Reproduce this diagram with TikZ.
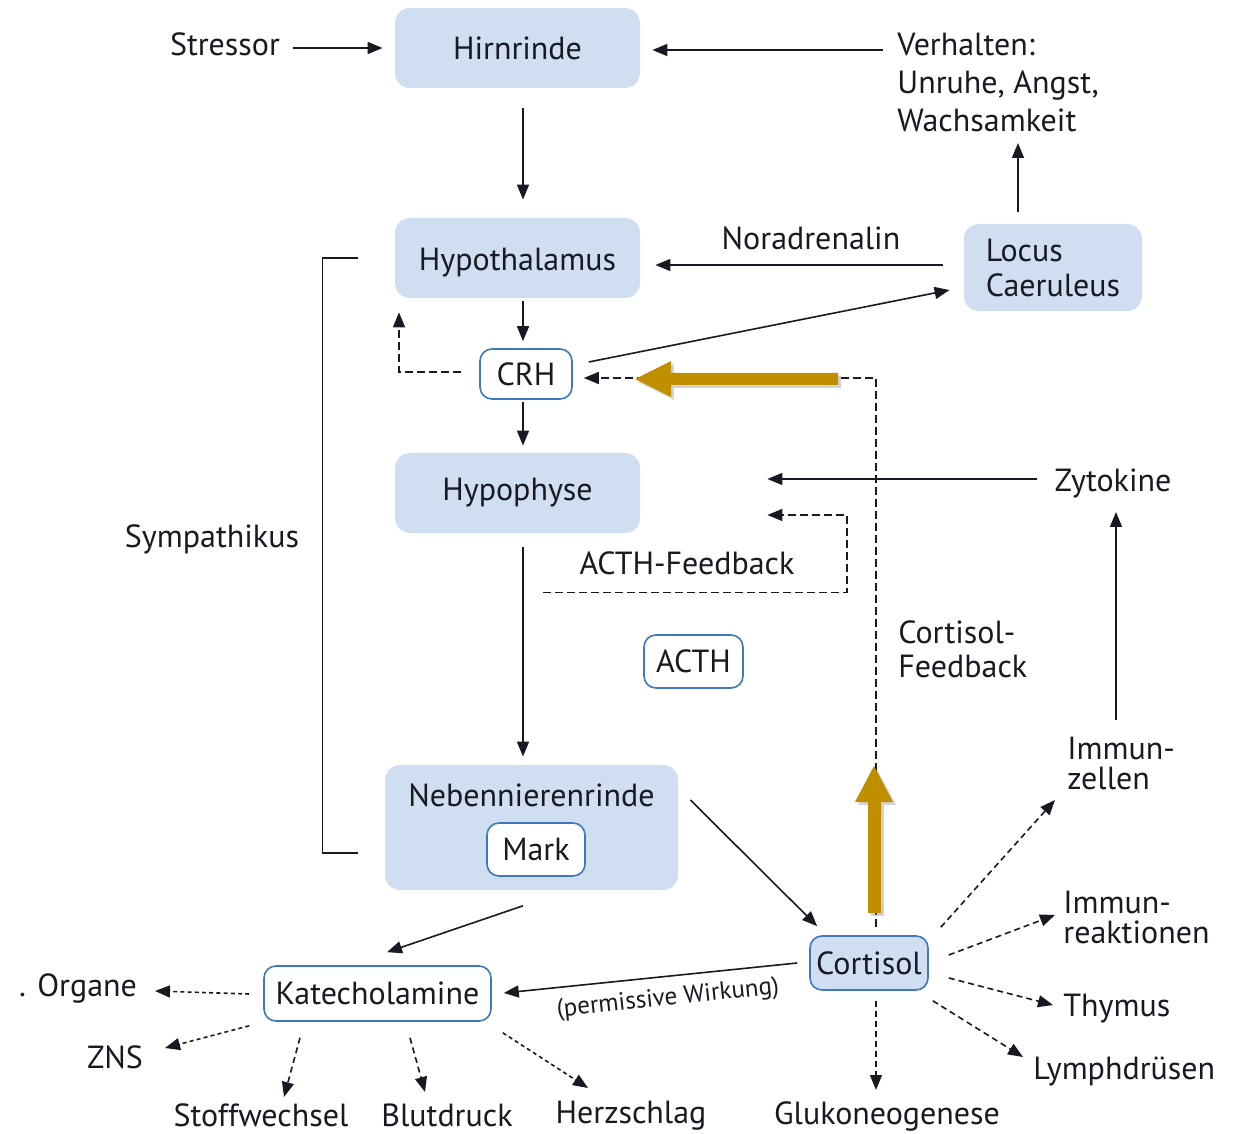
\documentclass[tikz,border=0pt]{standalone}
\usepackage{fontspec}
\setmainfont{PT Sans}
\usetikzlibrary{arrows.meta,shadows}
\definecolor{boxblue}{RGB}{207,223,241}
\definecolor{bordblue}{RGB}{62,120,190}
\definecolor{txt}{RGB}{25,25,35}
\definecolor{gold}{RGB}{191,143,0}
\tikzset{
  box/.style={fill=boxblue, rounded corners=7.5pt, inner sep=0pt, text=txt},
  wbox/.style={draw=bordblue, line width=0.8pt, fill=white, rounded corners=6pt, inner sep=0pt, text=txt},
  cbox/.style={draw=bordblue, line width=0.8pt, fill=boxblue, rounded corners=6pt, inner sep=0pt, text=txt},
  lbl/.style={inner sep=0pt, text=txt},
  arr/.style={draw=txt, line width=0.8pt, -{Triangle[length=7.5pt,width=6pt]}},
  plain/.style={draw=txt, line width=0.8pt},
  fb/.style={dash pattern=on 4pt off 2pt},
  fan/.style={dash pattern=on 3pt off 2pt},
  dot/.style={dash pattern=on 2pt off 1.6pt},
  goldarrow/.style={fill=gold, drop shadow={opacity=0.35, shadow xshift=1.5pt, shadow yshift=-1.5pt}}
}
\begin{document}
\begin{tikzpicture}[x=0.5pt,y=-0.5pt,font=\fontsize{16}{19}\selectfont]
\useasboundingbox (0,0) rectangle (1255,1134);
% boxes
\node[box, minimum width=122.5pt, minimum height=40pt] (hirn) at (517.5,48) {Hirnrinde};
\node[box, minimum width=122.5pt, minimum height=40pt, text depth=0pt] (hypo) at (517.5,258) {\raisebox{-1.5pt}{Hypothalamus}};
\node[box, minimum width=89pt, minimum height=43.5pt, align=left, font=\fontsize{16}{17.5}\selectfont] (locus) at (1053,267.5) {Locus\\Caeruleus};
\node[box, minimum width=122.5pt, minimum height=40pt] (hypoph) at (517.5,493) {\raisebox{-1pt}{Hypophyse}};
\node[box, minimum width=146.5pt, minimum height=62.5pt] (nnr) at (531.5,827.5) {};
\node[lbl] (nnrlabel) at (531.5,795) {Nebennierenrinde};
\node[wbox, minimum width=49pt, minimum height=26.5pt] (mark) at (536,849.5) {Mark};
\node[wbox, minimum width=46pt, minimum height=25pt] (crh) at (526,374) {CRH};
\node[wbox, minimum width=49.5pt, minimum height=26.5pt] (acth) at (693.5,661.5) {ACTH};
\node[cbox, minimum width=59pt, minimum height=27pt] (cortisol) at (869,963) {Cortisol};
\node[wbox, minimum width=113.5pt, minimum height=27.5pt] (katech) at (377.5,993.5) {Katecholamine};
% labels
\node[lbl] (stressor) at (225,44) {Stressor};
\node[lbl, anchor=west, align=left] (verh) at (897,82) {Verhalten:\\Unruhe, Angst,\\Wachsamkeit};
\node[lbl] (norad) at (811,238) {Noradrenalin};
\node[lbl] (symp) at (212,539) {Sympathikus};
\node[lbl] (zyto) at (1113,483) {Zytokine};
\node[lbl] (acthfb) at (687,563) {ACTH-Feedback};
\node[lbl, anchor=west, align=left, font=\fontsize{16}{17}\selectfont] (cortfb) at (898,649) {Cortisol-\\Feedback};
\node[lbl, anchor=west, align=left, font=\fontsize{16}{15}\selectfont] (immz) at (1067,763) {Immun-\\zellen};
\node[lbl, anchor=west, align=left, font=\fontsize{16}{15}\selectfont] (immr) at (1063,917) {Immun-\\reaktionen};
\node[lbl, anchor=west] (thymus) at (1063,1009) {Thymus};
\node[lbl, anchor=west] (lymph) at (1033,1072) {Lymphdrüsen};
\node[lbl] (gluko) at (887,1116) {Glukoneogenese};
\node[lbl] (herz) at (631,1116) {Herzschlag};
\node[lbl] (blut) at (447,1115) {Blutdruck};
\node[lbl] (stoff) at (261,1115) {Stoffwechsel};
\node[lbl] (zns) at (115,1057) {ZNS};
\node[lbl] (organe) at (78,988) {. Organe};
\node[lbl, rotate=6, font=\fontsize{12.5}{14}\selectfont] (perm) at (668,999) {(permissive Wirkung)};
% solid connectors
\draw[arr] ([shift={(68,4)}]stressor.center) -- ([shift={(-12,0)}]hirn.west);
\draw[arr] ([shift={(-14,-32)}]verh.west) -- ([shift={(12,2)}]hirn.east);
\draw[arr] ([shift={(5.5,20)}]hirn.south) -- ([shift={(5.5,-18)}]hypo.north);
\draw[arr] ([shift={(-35,-12)}]locus.north) -- ([shift={(121,61)}]verh.west);
\draw[arr] ([shift={(-21,-2.5)}]locus.west) -- ([shift={(15,7)}]hypo.east);
\draw[arr] ([shift={(16,-12)}]crh.east) -- ([shift={(-14,22.5)}]locus.west);
\draw[arr] ([shift={(5.5,3)}]hypo.south) -- ([shift={(-3,-7)}]crh.north);
\draw[arr] ([shift={(-3,2)}]crh.south) -- ([shift={(5.5,-7)}]hypoph.north);
\draw[arr] ([shift={(-76,-4)}]zyto.center) -- ([shift={(127,-14)}]hypoph.east);
\draw[arr] ([shift={(5.5,14)}]hypoph.south) -- ([shift={(-8.5,-8)}]nnr.north);
\draw[arr] ([shift={(49,-43)}]immz.west) -- ([shift={(3,29)}]zyto.center);
\draw[arr] ([shift={(12,-27.5)}]nnr.east) -- ([shift={(8,-9)}]cortisol.north west);
\draw[arr] ([shift={(-13,29)}]mark.south) -- ([shift={(9.5,-13)}]katech.north);
\draw[arr] ([shift={(-12,0)}]cortisol.west) -- ([shift={(12,-0.5)}]katech.east);
\draw[plain] ([shift={(-37,0)}]hypo.west) -- ++(-35,0) |- ([shift={(-27,25.5)}]nnr.west);
% dashed feedback connectors
\draw[arr, fb] ([shift={(-18,-2)}]crh.west) -| ([shift={(-118.5,14)}]hypo.south);
\draw[arr, fb] ([shift={(7,-8)}]cortisol.north) |- ([shift={(11,4)}]crh.east);
\draw[arr, fb] ([shift={(25.5,59)}]hypoph.south) -- ++(304,0) |- ([shift={(127,22)}]hypoph.east);
% fan from cortisol
\draw[arr, fan] ([shift={(12,-8)}]cortisol.north east) -- ([shift={(-12,37)}]immz.west);
\draw[arr, fan] ([shift={(20,-8)}]cortisol.east) -- ([shift={(-8,-2)}]immr.west);
\draw[arr, fan] ([shift={(20,15)}]cortisol.east) -- ([shift={(-10,-4)}]thymus.west);
\draw[arr, fan] ([shift={(4,10)}]cortisol.south east) -- ([shift={(-10,-15)}]lymph.west);
\draw[arr, fan] ([shift={(7,10)}]cortisol.south) -- ([shift={(-11,-26)}]gluko.center);
% fan from katecholamine
\draw[arr, dot] ([shift={(-14,0.5)}]katech.west) -- ([shift={(77,3)}]organe.center);
\draw[arr, dot] ([shift={(-14,4)}]katech.south west) -- ([shift={(50,-9)}]zns.center);
\draw[arr, fan] ([shift={(-77.5,16)}]katech.south) -- ([shift={(23,-18)}]stoff.center);
\draw[arr, fan] ([shift={(32.5,16)}]katech.south) -- ([shift={(-22,-23)}]blut.center);
\draw[arr, dot] ([shift={(11,11)}]katech.south east) -- ([shift={(-43,-28)}]herz.center);
% gold arrows
\fill[goldarrow] (838,373) -- (671,373) -- (671,361) -- (635,379) -- (671,397) -- (671,385) -- (838,385) -- cycle;
\fill[goldarrow] (868,913) -- (868,802) -- (855,802) -- (874,766) -- (893,802) -- (881,802) -- (881,913) -- cycle;
\end{tikzpicture}
\end{document}
